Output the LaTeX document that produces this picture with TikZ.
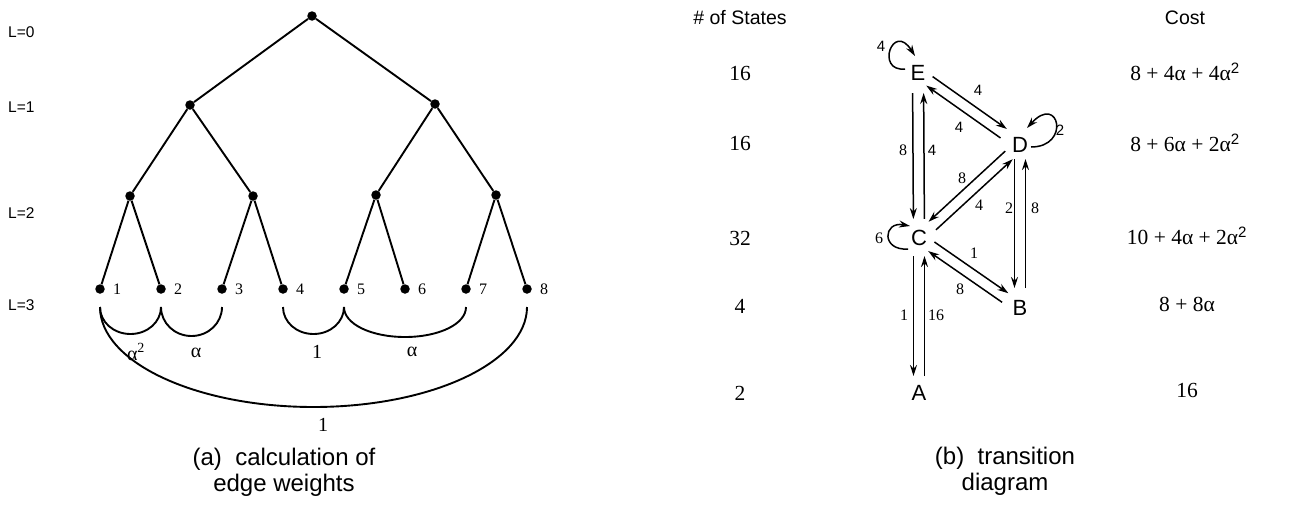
\documentclass[tikz,border=0pt]{standalone}
\usepackage{fontspec}
\setmainfont{Liberation Serif}
\setsansfont{Liberation Sans}
\usetikzlibrary{arrows.meta,calc}
\newcommand\lftedge[5]{\draw[arr,shorten <=#3,shorten >=#4] ($(#1)!5.5pt!90:(#2)$) -- ($(#2)!5.5pt!-90:(#1)$) #5;}
\newcommand\rgtedge[5]{\draw[arr,shorten <=#3,shorten >=#4] ($(#1)!5.5pt!-90:(#2)$) -- ($(#2)!5.5pt!90:(#1)$) #5;}
\begin{document}
\begin{tikzpicture}[x=1pt,y=-1pt,
  dot/.style={circle,fill,inner sep=0pt,minimum size=9.5pt},
  tree/.style={line width=1.9pt},
  lvl/.style={font=\sffamily\fontsize{15.5}{15.5}\selectfont,anchor=west,inner sep=0pt},
  leafnum/.style={font=\fontsize{16}{16}\selectfont,anchor=west,inner sep=0pt},
  wt/.style={font=\fontsize{20}{20}\selectfont,inner sep=0pt},
  capt/.style={font=\sffamily\fontsize{24}{26}\selectfont,align=center,inner sep=0pt},
  num/.style={font=\fontsize{21.5}{21.5}\selectfont,inner sep=0pt},
  hd/.style={font=\sffamily\fontsize{19.5}{19.5}\selectfont,inner sep=0pt},
  stnode/.style={font=\sffamily\fontsize{22}{22}\selectfont,inner sep=0pt},
  elab/.style={font=\fontsize{16}{16}\selectfont,inner sep=0pt},
  selab/.style={font=\sffamily\fontsize{15}{15}\selectfont,inner sep=0pt},
  arr/.style={line width=1.5pt,-{Stealth[length=11pt,width=7pt]}}]
\useasboundingbox (0,0) rectangle (1297,525);
% ---------- (a) tree ----------
\node[lvl] at (8,32) {L=0};
\node[lvl] at (8,107) {L=1};
\node[lvl] at (8,213) {L=2};
\node[lvl] at (8,305) {L=3};
\node[dot] (r) at (312,16) {};
\node[dot] (p1) at (190,105) {};
\node[dot] (p2) at (435,104) {};
\node[dot] (q1) at (130,196) {};
\node[dot] (q2) at (253,196) {};
\node[dot] (q3) at (376,195) {};
\node[dot] (q4) at (496,195) {};
\foreach \i/\x in {1/100,2/161,3/222,4/283,5/344,6/405,7/466,8/527}{
  \node[dot] (l\i) at (\x,289) {};
  \node[leafnum] at ($(l\i)+(13,0)$) {\i};
  \coordinate (b\i) at ($(l\i)+(0,18)$);
}
\draw[tree] (r)--(p1) (r)--(p2) (p1)--(q1) (p1)--(q2) (p2)--(q3) (p2)--(q4)
  (q1)--(l1) (q1)--(l2) (q2)--(l3) (q2)--(l4) (q3)--(l5) (q3)--(l6) (q4)--(l7) (q4)--(l8);
% arcs
\draw[tree] (b1) .. controls +(0,15) and +(-17,0) .. ($(b1)!0.5!(b2)+(0,27)$) .. controls +(17,0) and +(0,15) .. (b2);
\draw[tree] (b2) .. controls +(0,16) and +(-17,0) .. ($(b2)!0.5!(b3)+(0,29)$) .. controls +(17,0) and +(0,16) .. (b3);
\draw[tree] (b4) .. controls +(0,15) and +(-17,0) .. ($(b4)!0.5!(b5)+(0,27)$) .. controls +(17,0) and +(0,15) .. (b5);
\draw[tree] (b5) .. controls +(0,17) and +(-34,0) .. ($(b5)!0.5!(b7)+(0,30)$) .. controls +(34,0) and +(0,17) .. (b7);
\draw[tree] (b1) .. controls +(0,55) and +(-118,0) .. ($(b1)!0.5!(b8)+(0,100)$) .. controls +(118,0) and +(0,55) .. (b8);
\node[wt] at (136,352) {α\textsuperscript{2}};
\node[wt] at (196,353) {α};
\node[wt] at (317,352) {1};
\node[wt] at (412,352) {α};
\node[wt] at (323,425) {1};
\node[capt] at (284,472) {(a)\ \ calculation of\\edge weights};
% ---------- (b) transition diagram ----------
\node[hd] at (740,18) {\# of States};
\node[hd] at (1185,18) {Cost};
\node[num] at (740,73) {16};
\node[num] at (740,143) {16};
\node[num] at (740,238) {32};
\node[num] at (740,306) {4};
\node[num] at (740,393) {2};
\node[num] at (1185,72) {8 + 4α + 4α\textsuperscript{\sffamily 2}};
\node[num] at (1185,143) {8 + 6α + 2α\textsuperscript{\sffamily 2}};
\node[num] at (1187,236) {10 + 4α + 2α\textsuperscript{\sffamily 2}};
\node[num] at (1187,304) {8 + 8α};
\node[num] at (1187,390) {16};
\node[stnode] (E) at (918,73) {E};
\node[stnode] (D) at (1020,145) {D};
\node[stnode] (C) at (919,238) {C};
\node[stnode] (B) at (1020,308) {B};
\node[stnode] (A) at (919,393) {A};
% E <-> C
\rgtedge{E}{C}{20pt}{19pt}{node[elab] at (903,150) {8}}
\rgtedge{C}{E}{19pt}{20pt}{node[selab] at (932,150) {4}}
% E <-> D
\lftedge{E}{D}{14pt}{20pt}{node[selab] at (978,90) {4}}
\lftedge{D}{E}{20pt}{14pt}{node[selab] at (959,127) {4}}
% D <-> C
\rgtedge{D}{C}{15pt}{18pt}{node[elab] at (962,178) {8}}
\rgtedge{C}{D}{18pt}{15pt}{node[elab] at (979,205) {4}}
% C <-> B
\lftedge{C}{B}{15pt}{18pt}{node[elab] at (974,253) {1}}
\lftedge{B}{C}{18pt}{15pt}{node[elab] at (960,289) {8}}
% D <-> B
\rgtedge{D}{B}{14pt}{20pt}{node[elab] at (1009,208) {2}}
\rgtedge{B}{D}{20pt}{14pt}{node[elab] at (1035,208) {8}}
% C <-> A
\rgtedge{C}{A}{18pt}{17pt}{node[elab] at (904,315) {1}}
\rgtedge{A}{C}{17pt}{18pt}{node[elab] at (936,315) {16}}
% self loops
\draw[arr] ($(E)+(-13,-4)$) .. controls +(-30,3) and +(-22,-35) .. ($(E)+(-3,-17)$) node[selab] at (881,46) {4};
\draw[arr] ($(D)+(11,2)$) .. controls +(40,0) and +(32,-35) .. ($(D)+(7,-17)$) node[selab] at (1060,130) {2};
\draw[arr] ($(C)+(-11,11)$) .. controls +(-27,2) and +(-27,-5) .. ($(C)+(-9,-12)$) node[elab] at (879,238) {6};
\node[capt] at (1005,471) {(b)\ \ transition\\diagram};
\end{tikzpicture}
\end{document}
